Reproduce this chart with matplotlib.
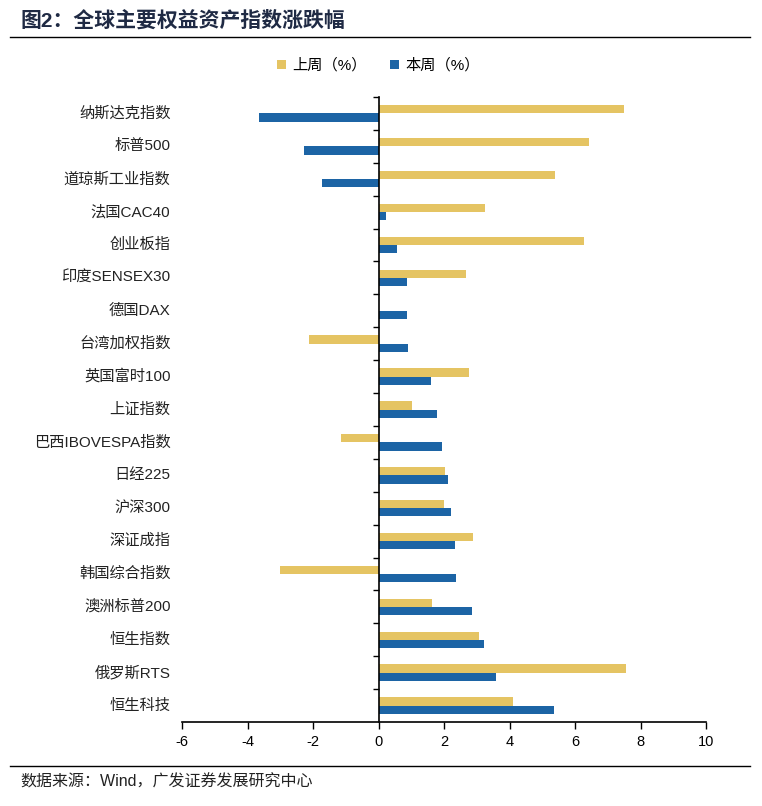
import matplotlib
matplotlib.use("Agg")
import matplotlib.pyplot as plt
from matplotlib.transforms import blended_transform_factory
import numpy as np

plt.rcParams['font.family'] = ['Liberation Sans', 'Noto Sans CJK SC']

# 数据（%）
categories = ['纳斯达克指数', '标普500', '道琼斯工业指数', '法国CAC40', '创业板指',
              '印度SENSEX30', '德国DAX', '台湾加权指数', '英国富时100', '上证指数',
              '巴西IBOVESPA指数', '日经225', '沪深300', '深证成指', '韩国综合指数',
              '澳洲标普200', '恒生指数', '俄罗斯RTS', '恒生科技']
last_week = [7.50, 6.44, 5.40, 3.25, 6.28, 2.67, 0.0, -2.12, 2.75, 1.02,
             -1.14, 2.04, 2.00, 2.88, -3.01, 1.63, 3.07, 7.57, 4.11]
this_week = [-3.66, -2.28, -1.74, 0.22, 0.57, 0.86, 0.88, 0.91, 1.61, 1.80,
             1.94, 2.11, 2.20, 2.34, 2.36, 2.84, 3.22, 3.59, 5.36]
x_ticks = [-6, -4, -2, 0, 2, 4, 6, 8, 10]

YELLOW = '#E5C463'
BLUE = '#1C64A5'

fig = plt.figure(figsize=(7.62, 8.06), dpi=100)
ax = fig.add_axes([182 / 762, 84 / 806, 524 / 762, 625 / 806])

y = np.arange(len(categories))
h = 0.25
ax.barh(y - h / 2, last_week, height=h, color=YELLOW, label='上周（%）')
ax.barh(y + h / 2, this_week, height=h, color=BLUE, label='本周（%）')

ax.set_xlim(-6, 10)
ax.set_ylim(len(categories) - 0.5, -0.5)
ax.set_xticks(x_ticks)
ax.set_xticklabels([str(t) for t in x_ticks], fontsize=10.5)
ax.tick_params(axis='x', direction='out', length=5, width=1, pad=4)

ax.spines['top'].set_visible(False)
ax.spines['right'].set_visible(False)
ax.spines['left'].set_position(('data', 0))
ax.spines['left'].set_linewidth(1.2)
ax.spines['bottom'].set_linewidth(1.2)

ax.set_yticks(np.arange(len(categories)) - 0.5)
ax.set_yticklabels([])
ax.tick_params(axis='y', direction='out', length=4, width=1)

trans = blended_transform_factory(ax.transAxes, ax.transData)
for i, name in enumerate(categories):
    ax.text(-0.022, i, name, transform=trans, ha='right', va='center',
            fontsize=11, color='#222222')

leg = ax.legend(loc='center', bbox_to_anchor=(0.375, 1.05), ncol=2,
                frameon=False, fontsize=11, handlelength=0.6, handleheight=0.6,
                columnspacing=1.5, handletextpad=0.4)

# 标题与来源
fig.text(20 / 762, 1 - 21 / 806, '图2：全球主要权益资产指数涨跌幅', fontsize=15,
         fontweight='bold', color='#1F2A44', ha='left', va='center')
fig.add_artist(plt.Line2D([10 / 762, 750 / 762], [1 - 37 / 806, 1 - 37 / 806],
                          color='black', linewidth=1))
fig.add_artist(plt.Line2D([10 / 762, 750 / 762], [1 - 766 / 806, 1 - 766 / 806],
                          color='black', linewidth=1))
fig.text(20 / 762, 1 - 782 / 806, '数据来源：Wind，广发证券发展研究中心', fontsize=11.5,
         color='#222222', ha='left', va='center')

fig.savefig('out.png', dpi=100)
